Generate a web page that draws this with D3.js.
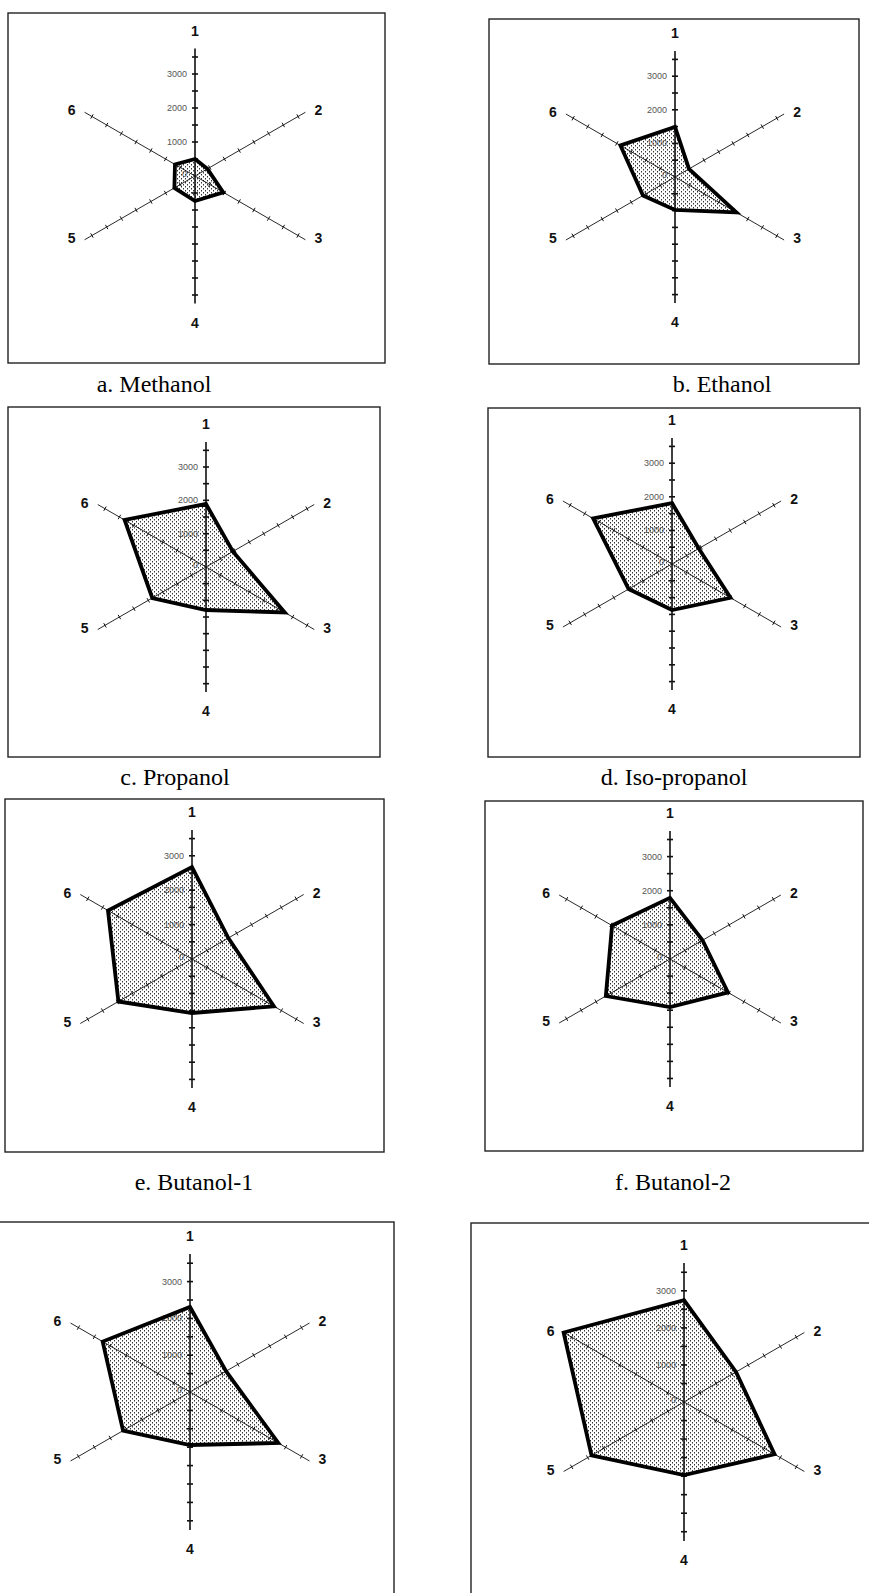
<!DOCTYPE html>
<html>
<head>
<meta charset="utf-8">
<script src="https://cdn.jsdelivr.net/npm/d3@7"></script>
<style>
  body { margin: 0; background: #fff; }
  svg { display: block; }
</style>
</head>
<body>
<div id="container"></div>
<script>
// categories / values
const axisLabels = ['1', '2', '3', '4', '5', '6'];
const tickLabels = [0, 1000, 2000, 3000];
const tickSteps = [500, 1000, 1500, 2000, 2500, 3000, 3500];
const maxValue = 3750;

const panelNames = ['a. Methanol', 'b. Ethanol', 'c. Propanol', 'd. Iso-propanol',
    'e. Butanol-1', 'f. Butanol-2', '', ''];

const methanol = [500, 420, 960, 735, 700, 680];
const ethanol = [1490, 480, 2110, 980, 1100, 1875];
const propanol = [1890, 930, 2730, 1290, 1860, 2820];
const isopropanol = [1815, 920, 2010, 1370, 1490, 2710];
const butanol1 = [2670, 1220, 2750, 1570, 2470, 2820];
const butanol2 = [1790, 1100, 1960, 1410, 2170, 1960];
const sampleG = [2310, 1130, 2770, 1440, 2100, 2740];
const sampleH = [2750, 1620, 2820, 1970, 2880, 3750];

const series = [methanol, ethanol, propanol, isopropanol, butanol1, butanol2, sampleG, sampleH];

// layout of each panel: frame box, centre, radius, caption position
const layout = [
    {fx: 8, fy: 13, fw: 377, fh: 350, cx: 195, cy: 176, r: 127.5, tx: 154, ty: 392},
    {fx: 489, fy: 19, fw: 370, fh: 345, cx: 675, cy: 177, r: 126, tx: 722, ty: 392},
    {fx: 8, fy: 407, fw: 372, fh: 350, cx: 206, cy: 567, r: 125, tx: 175, ty: 785},
    {fx: 488, fy: 408, fw: 372, fh: 349, cx: 672, cy: 564, r: 126, tx: 674, ty: 785},
    {fx: 5, fy: 799, fw: 379, fh: 353, cx: 192, cy: 959, r: 129, tx: 194, ty: 1190},
    {fx: 485, fy: 801, fw: 378, fh: 350, cx: 670, cy: 959, r: 128, tx: 673, ty: 1190},
    {fx: -2, fy: 1222, fw: 396, fh: 420, cx: 190, cy: 1392, r: 138, tx: 0, ty: 0},
    {fx: 471, fy: 1223, fw: 420, fh: 420, cx: 684, cy: 1402, r: 139, tx: 0, ty: 0},
];

const width = 869;
const height = 1593;

const svg = d3.select('#container').append('svg')
    .attr('width', width)
    .attr('height', height)
    .style('background', '#fff');

// stipple fill
const pattern = svg.append('defs').append('pattern')
    .attr('id', 'dots')
    .attr('width', 4)
    .attr('height', 4)
    .attr('patternUnits', 'userSpaceOnUse');
pattern.append('rect').attr('width', 4).attr('height', 4).attr('fill', '#fff');
pattern.append('rect').attr('x', 0).attr('y', 0).attr('width', 1).attr('height', 1.5).attr('fill', '#333');
pattern.append('rect').attr('x', 2).attr('y', 2).attr('width', 1).attr('height', 1.5).attr('fill', '#333');

const step = Math.PI / 3;

series.forEach((values, p) => {
    const L = layout[p];
    const scale = d3.scaleLinear().domain([0, maxValue]).range([0, L.r]);
    const pt = (i, v) => [Math.sin(i * step) * scale(v), -Math.cos(i * step) * scale(v)];

    svg.append('rect')
        .attr('x', L.fx).attr('y', L.fy)
        .attr('width', L.fw).attr('height', L.fh)
        .style('fill', 'none')
        .style('stroke', '#222')
        .style('stroke-width', 1.4);

    const g = svg.append('g').attr('transform', `translate(${L.cx} ${L.cy})`);

    const line = d3.lineRadial()
        .angle((d, i) => i * step)
        .radius((d) => scale(d))
        .curve(d3.curveLinearClosed);

    // fill
    g.append('path')
        .attr('d', line(values))
        .style('fill', 'url(#dots)')
        .style('stroke', 'none');

    // diagonal spokes (2, 3, 5, 6)
    [1, 2, 4, 5].forEach((i) => {
        const end = pt(i, maxValue);
        g.append('line')
            .attr('x1', 0).attr('y1', 0)
            .attr('x2', end[0]).attr('y2', end[1])
            .style('stroke', '#111')
            .style('stroke-width', 0.9);
        const ang = i * step;
        tickSteps.forEach((v) => {
            const c = pt(i, v);
            const nx = Math.cos(ang) * 2.5, ny = Math.sin(ang) * 2.5;
            g.append('line')
                .attr('x1', c[0] - nx).attr('y1', c[1] - ny)
                .attr('x2', c[0] + nx).attr('y2', c[1] + ny)
                .style('stroke', '#111')
                .style('stroke-width', 1);
        });
    });

    // vertical axis (1 and 4)
    g.append('line')
        .attr('x1', 0).attr('y1', -scale(maxValue))
        .attr('x2', 0).attr('y2', scale(maxValue))
        .style('stroke', '#111')
        .style('stroke-width', 1.6);
    tickSteps.forEach((v) => {
        [-1, 1].forEach((s) => {
            g.append('line')
                .attr('x1', -3).attr('x2', 3)
                .attr('y1', s * scale(v)).attr('y2', s * scale(v))
                .style('stroke', '#111')
                .style('stroke-width', 1.6);
        });
    });

    g.selectAll('text.tick').data(tickLabels).enter().append('text')
        .attr('class', 'tick')
        .attr('x', -8)
        .attr('y', (d) => -scale(d) + (d === 0 ? 1 : 3))
        .attr('text-anchor', 'end')
        .style('font-family', 'Liberation Sans, Arial, sans-serif')
        .style('font-size', '9px')
        .style('fill', '#555')
        .text((d) => d);

    // outline
    g.append('path')
        .attr('d', line(values))
        .style('fill', 'none')
        .style('stroke', '#000')
        .style('stroke-width', 3.8)
        .style('stroke-linejoin', 'miter');

    // category labels
    g.selectAll('text.cat').data(axisLabels).enter().append('text')
        .attr('class', 'cat')
        .attr('x', (d, i) => {
            if (i === 0 || i === 3) return 0;
            const e = pt(i, maxValue);
            return e[0] + (e[0] > 0 ? 13 : -13);
        })
        .attr('y', (d, i) => {
            if (i === 0) return -L.r - 18;
            if (i === 3) return L.r + 19;
            return pt(i, maxValue)[1] - 2;
        })
        .attr('text-anchor', 'middle')
        .attr('dominant-baseline', 'central')
        .style('font-family', 'Liberation Sans, Arial, sans-serif')
        .style('font-weight', 'bold')
        .style('font-size', '14px')
        .style('fill', '#111')
        .text((d) => d);

    if (panelNames[p]) {
        svg.append('text')
            .attr('x', L.tx)
            .attr('y', L.ty)
            .attr('text-anchor', 'middle')
            .style('font-family', 'Liberation Serif, Times New Roman, serif')
            .style('font-size', '24px')
            .style('fill', '#000')
            .text(panelNames[p]);
    }
});
</script>
</body>
</html>
